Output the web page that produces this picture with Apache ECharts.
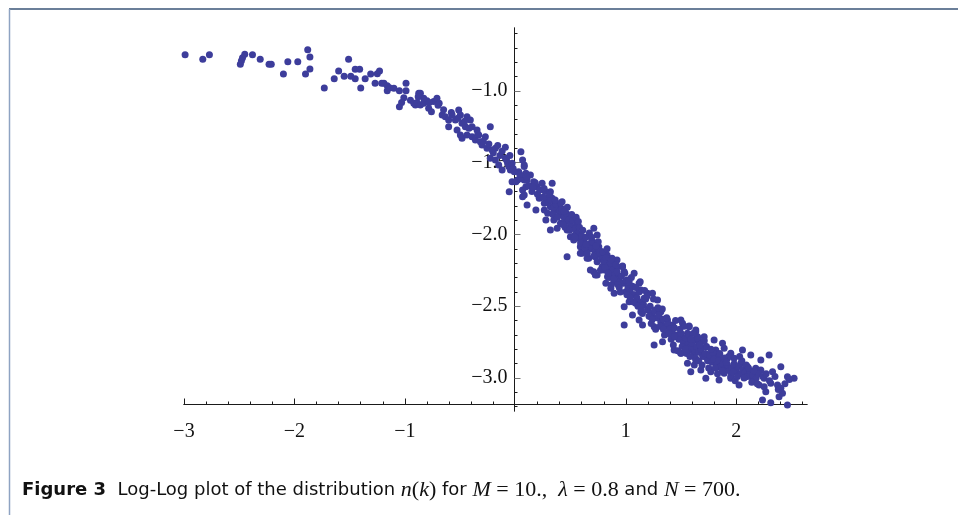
<!DOCTYPE html>
<html><head><meta charset="utf-8">
<script src="https://cdn.jsdelivr.net/npm/echarts@6/dist/echarts.min.js"></script>
<style>html,body{margin:0;padding:0;background:#fff}#c{width:958px;height:515px}</style>
</head><body><div id="c"></div><script>
const xMajorTicks=[-3,-2,-1,1,2];
const xMinorTicks=[-2.8,-2.6,-2.4,-2.2,-1.8,-1.6,-1.4,-1.2,-0.8,-0.6,-0.4,-0.2,0.2,0.4,0.6,0.8,1.2,1.4,1.6,1.8,2.2,2.4,2.6];
const yMajorTicks=[-3.0,-2.5,-2.0,-1.5,-1.0];
const yMinorTicks=[-3.2,-3.1,-2.9,-2.8,-2.7,-2.6,-2.4,-2.3,-2.2,-2.1,-1.9,-1.8,-1.7,-1.6,-1.4,-1.3,-1.2,-1.1,-0.9,-0.8,-0.7,-0.6];

const pointsHead=[[-2.99,-0.747],[-2.83,-0.779],[-2.77,-0.747],[-2.49,-0.814],[-2.48,-0.789],[-2.47,-0.768],[-2.45,-0.744],[-2.38,-0.747],[-2.31,-0.779],[-2.23,-0.814],[-2.21,-0.814],[-2.10,-0.882],[-2.06,-0.796],[-1.97,-0.796],[-1.90,-0.882],[-1.88,-0.712],[-1.86,-0.763],[-1.86,-0.847],[-1.73,-0.979],[-1.64,-0.914],[-1.60,-0.861],[-1.55,-0.898],[-1.51,-0.779],[-1.49,-0.898],[-1.45,-0.849],[-1.41,-0.849],[-1.45,-0.914],[-1.40,-0.979],[-1.36,-0.914],[-1.31,-0.882],[-1.27,-0.946],[-1.25,-0.880],[-1.23,-0.861],[-1.21,-0.946],[-1.19,-0.946],[-1.16,-0.963],[-1.16,-0.998],[-1.14,-0.977],[-1.10,-0.981],[-1.05,-0.998],[-0.99,-0.946],[-0.99,-0.998],[-1.01,-1.047],[-1.03,-1.080],[-1.05,-1.110],[-0.95,-1.065],[-0.905,-1.098],[-0.875,-1.016]];
const pointsUpper=[[-0.92,-1.086],[-0.89,-1.081],[-0.86,-1.016],[-0.86,-1.098],[-0.83,-1.086],[-0.80,-1.068],[-0.785,-1.121],[-0.76,-1.144],[-0.74,-1.074],[-0.71,-1.05],[-0.69,-1.086],[-0.663,-1.167],[-0.634,-1.179],[-0.604,-1.202],[-0.573,-1.167],[-0.543,-1.202],[-0.513,-1.132],[-0.498,-1.167],[-0.483,-1.225],[-0.453,-1.249],[-0.604,-1.249],[-0.528,-1.272],[-0.438,-1.179],[-0.408,-1.202],[-0.392,-1.249],[-0.347,-1.272],[-0.332,-1.307],[-0.498,-1.307],[-0.483,-1.330],[-0.438,-1.307],[-0.392,-1.318],[-0.362,-1.341],[-0.317,-1.353],[-0.302,-1.376],[-0.272,-1.318],[-0.227,-1.249],[-0.257,-1.399],[-0.211,-1.411],[-0.181,-1.399],[-0.091,-1.392],[-0.227,-1.469],[-0.181,-1.481],[-0.151,-1.516],[-0.12,-1.551],[-0.09,-1.469],[-0.06,-1.527],[-0.045,-1.551],[-0.03,-1.632],[0.05,-1.423],[0.065,-1.481],[0.08,-1.527],[0.03,-1.562],[0.02,-1.620],[0.08,-1.620],[0.065,-1.690],[0.095,-1.667],[0.065,-1.737]];
const pointsMiddle=[[-0.07,-1.504],[-0.03,-1.504],[-0.01,-1.562],[0.08,-1.516],[0.095,-1.574],[-0.056,-1.702],[0.005,-1.632],[0.045,-1.609],[0.106,-1.620],[0.136,-1.585],[0.166,-1.632],[0.196,-1.667],[0.242,-1.643],[0.333,-1.643],[0.317,-1.702],[0.08,-1.725],[0.106,-1.794],[0.186,-1.829],[0.216,-1.748],[0.262,-1.783],[0.292,-1.748],[0.333,-1.748],[0.362,-1.783],[0.423,-1.771],[0.262,-1.829],[0.292,-1.852],[0.317,-1.806],[0.348,-1.841],[0.393,-1.817],[0.423,-1.864],[0.276,-1.899],[0.317,-1.969],[0.348,-1.899],[0.378,-1.957],[0.408,-1.922],[0.453,-1.911],[0.483,-1.876],[0.468,-1.969],[0.514,-1.957],[0.543,-2.003],[0.558,-1.934],[0.498,-2.015],[0.528,-2.038],[0.573,-2.026],[0.588,-2.085],[0.618,-2.038],[0.468,-2.155],[0.603,-2.131],[0.649,-2.108],[0.664,-2.166],[0.71,-1.957],[0.74,-2.003],[0.679,-2.061],[0.709,-2.085],[0.724,-2.143],[0.755,-2.085],[0.77,-2.131],[0.8,-2.166],[0.83,-2.201],[0.86,-2.236],[0.89,-2.259],[0.92,-2.282],[0.709,-2.259],[0.74,-2.282],[0.785,-2.224],[0.92,-2.178],[0.83,-2.143]];
const pointsLower=[[0.618,-2.061],[0.679,-2.096],[0.74,-2.085],[0.588,-2.131],[0.649,-2.166],[0.724,-2.155],[0.8,-2.143],[0.875,-2.166],[0.679,-2.247],[0.724,-2.282],[0.804,-2.247],[0.834,-2.294],[0.879,-2.270],[0.925,-2.224],[0.970,-2.224],[0.985,-2.259],[0.94,-2.294],[0.894,-2.329],[0.819,-2.340],[0.864,-2.375],[0.894,-2.410],[0.94,-2.352],[1.015,-2.317],[1.075,-2.270],[1.045,-2.364],[1.12,-2.340],[1.136,-2.387],[1.0,-2.399],[1.075,-2.422],[1.166,-2.445],[1.196,-2.410],[1.241,-2.410],[1.287,-2.456],[0.985,-2.503],[1.03,-2.468],[1.09,-2.479],[1.136,-2.538],[1.196,-2.526],[1.271,-2.526],[1.317,-2.538],[0.985,-2.631],[1.06,-2.561],[1.12,-2.596],[1.151,-2.631],[1.226,-2.573],[1.256,-2.643],[1.317,-2.608],[1.377,-2.596],[1.423,-2.631],[1.498,-2.596],[1.573,-2.643],[1.633,-2.666],[1.256,-2.770],[1.332,-2.747],[1.377,-2.689],[1.437,-2.712],[1.498,-2.712],[1.558,-2.758],[1.618,-2.735],[1.437,-2.805],[1.498,-2.828],[1.588,-2.805],[1.649,-2.782]];
const pointsTail=[[1.513,-2.619],[1.573,-2.638],[1.633,-2.677],[1.649,-2.712],[1.558,-2.689],[1.528,-2.758],[1.588,-2.758],[1.664,-2.747],[1.709,-2.712],[1.724,-2.782],[1.799,-2.735],[1.814,-2.805],[1.875,-2.758],[1.89,-2.793],[1.498,-2.828],[1.558,-2.898],[1.633,-2.875],[1.618,-2.828],[1.694,-2.84],[1.739,-2.863],[1.785,-2.84],[1.830,-2.84],[1.86,-2.875],[1.92,-2.863],[1.95,-2.828],[1.98,-2.863],[2.056,-2.805],[2.131,-2.84],[2.222,-2.875],[2.297,-2.84],[1.588,-2.956],[1.679,-2.944],[1.724,-3.002],[1.769,-2.956],[1.83,-2.921],[1.844,-3.014],[1.89,-2.967],[1.95,-3.002],[1.995,-2.932],[2.025,-3.049],[2.041,-2.898],[2.071,-2.979],[2.101,-2.921],[2.147,-3.002],[2.176,-2.932],[2.222,-2.944],[2.252,-3.002],[2.328,-2.956],[2.403,-2.921],[2.463,-2.991],[2.523,-3.002],[2.206,-3.049],[2.252,-3.061],[2.267,-3.096],[2.312,-3.037],[2.373,-3.049],[2.403,-3.072],[2.237,-3.153],[2.312,-3.172],[2.387,-3.130],[2.463,-3.188],[2.418,-3.107]];
const pointsBand=[[0.12,-1.66],[0.15,-1.70],[0.18,-1.64],[0.2,-1.72],[0.22,-1.69],[0.25,-1.74],[0.27,-1.70],[0.3,-1.78],[0.32,-1.76],[0.35,-1.81],[0.37,-1.79],[0.4,-1.84],[0.42,-1.82],[0.44,-1.88],[0.46,-1.85],[0.48,-1.90],[0.5,-1.93],[0.52,-1.90],[0.54,-1.96],[0.56,-1.99],[0.58,-1.95],[0.6,-2.01],[0.62,-2.05],[0.64,-2.02],[0.66,-2.07],[0.68,-2.10],[0.70,-2.05],[0.72,-2.12],[0.74,-2.14],[0.76,-2.11],[0.78,-2.17],[0.80,-2.19],[0.82,-2.16],[0.84,-2.22],[0.86,-2.20],[0.88,-2.25],[0.90,-2.28],[0.92,-2.26],[0.94,-2.31],[0.96,-2.29],[0.98,-2.34],[1.00,-2.32],[1.02,-2.37],[1.04,-2.40],[1.06,-2.36],[1.08,-2.42],[1.10,-2.44],[1.12,-2.40],[1.14,-2.47],[1.16,-2.49],[1.18,-2.45],[1.20,-2.52],[1.22,-2.50],[1.24,-2.55],[1.26,-2.53],[1.28,-2.58],[1.30,-2.56],[1.32,-2.61],[1.34,-2.59],[1.36,-2.64],[1.38,-2.62],[1.40,-2.66],[1.42,-2.68],[1.44,-2.65],[1.46,-2.70],[1.48,-2.73],[1.50,-2.69],[1.52,-2.75],[1.54,-2.72],[1.56,-2.77],[1.58,-2.79],[1.60,-2.76],[1.62,-2.80],[1.64,-2.78],[1.66,-2.82],[1.68,-2.80],[1.70,-2.85],[1.72,-2.83],[1.74,-2.88],[1.76,-2.84],[1.78,-2.89],[1.80,-2.87],[1.82,-2.91],[1.84,-2.88],[1.86,-2.92],[1.88,-2.90],[1.90,-2.94],[1.92,-2.91],[1.94,-2.95],[1.96,-2.93],[1.98,-2.90],[2.00,-2.95],[2.02,-2.92],[2.04,-2.97],[2.06,-2.94],[2.08,-2.96],[2.10,-2.99],[2.12,-2.95],[2.15,-2.98],[2.18,-3.00],[2.20,-2.97],[0.95,-2.40],[1.05,-2.30],[1.15,-2.55],[1.25,-2.45],[1.35,-2.70],[1.45,-2.60],[1.55,-2.83],[1.65,-2.72],[1.75,-2.93],[1.85,-2.83],[1.95,-2.99],[2.05,-2.88],[0.85,-2.30],[0.75,-2.05],[0.65,-2.13],[0.55,-1.88],[0.45,-1.95],[1.13,-2.33],[1.23,-2.62],[1.33,-2.52],[1.43,-2.77],[1.53,-2.64],[1.63,-2.86],[1.73,-2.78],[1.83,-2.97],[1.93,-2.85],[1.41,-2.73],[1.57,-2.70],[1.47,-2.81],[1.69,-2.91],[1.79,-2.82],[1.61,-2.69],[1.27,-2.66],[1.17,-2.39],[1.07,-2.47],[0.97,-2.22],[0.87,-2.35],[0.77,-2.25],[0.67,-1.99],[1.89,-2.86],[1.99,-3.02],[2.09,-2.91],[2.14,-3.03],[2.03,-2.85],[1.71,-2.74],[1.51,-2.78]];
const pointsBand2=[[0.31,-1.72],[0.34,-1.86],[0.38,-1.88],[0.41,-1.78],[0.43,-1.93],[0.47,-1.81],[0.49,-1.97],[0.51,-1.86],[0.53,-2.01],[0.57,-1.91],[0.59,-2.06],[0.61,-1.97],[0.63,-2.09],[0.69,-2.02],[0.71,-2.15],[0.73,-2.08],[0.79,-2.12],[0.81,-2.23],[0.83,-2.10],[0.87,-2.18],[0.89,-2.31],[0.91,-2.21],[0.93,-2.35],[0.99,-2.27],[1.01,-2.42],[1.03,-2.33],[1.09,-2.37],[1.11,-2.50],[1.19,-2.43],[1.21,-2.57],[1.29,-2.51],[1.31,-2.64],[1.37,-2.58],[1.39,-2.69],[1.49,-2.66],[1.59,-2.73],[1.67,-2.77],[1.77,-2.80],[1.81,-2.93],[1.87,-2.95],[1.91,-2.89],[1.97,-2.96],[2.01,-2.99],[2.07,-3.00],[2.11,-2.93],[2.16,-2.95],[2.19,-3.04],[2.24,-2.99],[2.27,-2.97],[2.30,-3.02],[2.35,-2.99],[2.38,-3.08],[2.44,-3.04],[2.48,-3.01],[1.58,-2.85],[1.62,-2.91],[1.66,-2.88],[1.54,-2.80],[1.44,-2.71],[1.34,-2.66],[1.24,-2.59],[1.14,-2.51],[1.04,-2.44],[0.94,-2.37],[0.84,-2.27],[0.74,-2.19],[0.64,-2.07],[0.54,-2.02],[0.44,-1.84],[0.36,-1.76],[0.26,-1.68],[0.16,-1.67],[0.10,-1.60],[0.04,-1.58],[-0.02,-1.54],[-0.08,-1.48],[-0.14,-1.45],[-0.20,-1.43],[-0.24,-1.37],[-0.29,-1.35],[-0.34,-1.30],[-0.42,-1.26],[-0.46,-1.21],[-0.52,-1.19],[-0.58,-1.15],[-0.65,-1.13],[-0.70,-1.10],[-0.78,-1.08],[-0.83,-1.05],[-0.88,-1.04],[-0.12,-1.42],[-0.16,-1.38],[-0.05,-1.45]];

const allPoints=[].concat(pointsHead,pointsUpper,pointsMiddle,pointsLower,pointsTail,pointsBand,pointsBand2);
const minus=s=>String(s).replace('-','\u2212');
const serif='"Liberation Serif","Times New Roman",serif';
const sans='"DejaVu Sans",sans-serif';
const axisColor='#1a1a1a';
const X_MIN=-3, X_MAX=2.64, Y_MIN=-3.23, Y_MAX=-0.561;
const GRID_LEFT=184, ZERO_PX=514.5;

const richStyles={
  b:{fontFamily:sans,fontWeight:'bold',fontSize:18,fill:'#111'},
  s:{fontFamily:sans,fontSize:18,fill:'#111'},
  i:{fontFamily:serif,fontStyle:'italic',fontSize:22,fill:'#111'},
  r:{fontFamily:serif,fontSize:22,fill:'#111'}
};
const captionText='{b|Figure 3}{s|  Log-Log plot of the distribution }{i|n}{r|(}{i|k}{r|)}{s| for }{i|M}{r| = 10.,  }{i|\u03bb}{r| = 0.8}{s| and }{i|N}{r| = 700.}';

const chart=echarts.init(document.getElementById('c'),null,{renderer:'canvas'});
chart.setOption({
  animation:false,
  backgroundColor:'#ffffff',
  grid:{left:GRID_LEFT,right:151,top:28,bottom:104,containLabel:false},
  xAxis:[
    {type:'value',min:X_MIN,max:X_MAX,position:'bottom',offset:-6.5,
     axisLine:{onZero:false,lineStyle:{color:axisColor,width:1}},
     axisTick:{inside:true,length:6,customValues:xMajorTicks,lineStyle:{color:axisColor}},
     axisLabel:{customValues:xMajorTicks,formatter:v=>minus(v),margin:17,fontFamily:serif,fontSize:20,color:'#111'},
     splitLine:{show:false}},
    {type:'value',min:X_MIN,max:X_MAX,position:'bottom',offset:-6.5,
     axisLine:{onZero:false,lineStyle:{color:axisColor,width:1}},
     axisTick:{inside:true,length:3,customValues:xMinorTicks,lineStyle:{color:axisColor}},
     axisLabel:{show:false},splitLine:{show:false}}
  ],
  yAxis:[
    {type:'value',min:Y_MIN,max:Y_MAX,position:'left',offset:-(ZERO_PX-GRID_LEFT),
     axisLine:{onZero:false,lineStyle:{color:axisColor,width:1}},
     axisTick:{inside:true,length:6,customValues:yMajorTicks,lineStyle:{color:'#777'}},
     axisLabel:{customValues:yMajorTicks,formatter:v=>minus(v.toFixed(1)),margin:7,fontFamily:serif,fontSize:20,color:'#111'},
     splitLine:{show:false}},
    {type:'value',min:Y_MIN,max:Y_MAX,position:'left',offset:-(ZERO_PX-GRID_LEFT),
     axisLine:{onZero:false,lineStyle:{color:axisColor,width:1}},
     axisTick:{inside:true,length:3,customValues:yMinorTicks,lineStyle:{color:axisColor}},
     axisLabel:{show:false},splitLine:{show:false}}
  ],
  series:[{type:'scatter',xAxisIndex:0,yAxisIndex:0,data:allPoints,symbol:'circle',symbolSize:7,clip:false,
    itemStyle:{color:'#3d3d9b',opacity:1},silent:true,z:5}],
  graphic:[
    {type:'line',shape:{x1:9,y1:9,x2:958,y2:9},style:{stroke:'#6b7f99',lineWidth:2}},
    {type:'line',shape:{x1:9.5,y1:9,x2:9.5,y2:515},style:{stroke:'#8ea3c2',lineWidth:1.5}},
    {type:'text',left:22,top:479,style:{text:captionText,rich:richStyles,fill:'#111'}}
  ]
});
</script></body></html>
